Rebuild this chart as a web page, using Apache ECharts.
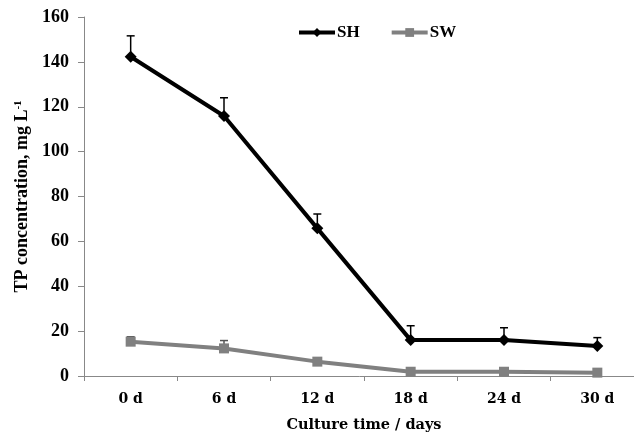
<!DOCTYPE html>
<html><head><meta charset="utf-8">
<script src="https://cdn.jsdelivr.net/npm/echarts@6/dist/echarts.min.js"></script>
<style>html,body{margin:0;padding:0;background:#fff}#c{width:634px;height:433px}</style>
</head><body><div id="c"></div>
<script>
var categories = ['0 d','6 d','12 d','18 d','24 d','30 d'];
var shValues = [142.3, 115.9, 65.8, 16.0, 16.0, 13.4];
var shErrors = [9.3, 8.1, 6.4, 6.4, 5.5, 3.7];
var swValues = [15.3, 12.3, 6.4, 1.9, 1.9, 1.5];
var swErrors = [2.2, 3.5, 0, 0, 0, 0];
var yTicks = [0,20,40,60,80,100,120,140,160];

var serif = 'Liberation Serif';
var wide = 'DejaVu Serif';
function errSeries(vals, errs, color){
  return {
    type:'custom', silent:true, z:1,
    data: vals.map(function(v,i){return [i, v, v+errs[i]];}),
    renderItem: function(params, api){
      var p0 = api.coord([api.value(0), api.value(1)]);
      var p1 = api.coord([api.value(0), api.value(2)]);
      if (api.value(2) - api.value(1) <= 0) return null;
      return {type:'group', children:[
        {type:'line', shape:{x1:p0[0],y1:p0[1],x2:p1[0],y2:p1[1]}, style:{stroke:color,lineWidth:1.5}},
        {type:'line', shape:{x1:p1[0]-4,y1:p1[1],x2:p1[0]+4,y2:p1[1]}, style:{stroke:color,lineWidth:1.5}}
      ]};
    }
  };
}
var chart = echarts.init(document.getElementById('c'));
chart.setOption({
  animation:false,
  grid:{left:84, width:560, top:17, height:359, outerBoundsMode:'none', containLabel:false},
  legend:{
    data:['SH','SW'], left:297, top:24, padding:0, itemWidth:36, itemHeight:11, itemGap:30,
    lineStyle:{width:4},
    textStyle:{fontFamily:serif, fontWeight:'bold', fontSize:17, color:'#000', padding:[0,0,0,-3]}
  },
  xAxis:{
    type:'category', data:categories, boundaryGap:true,
    axisLine:{lineStyle:{color:'#888', width:1}},
    axisTick:{show:true, length:5, lineStyle:{color:'#888'}},
    axisLabel:{fontFamily:wide, fontWeight:'bold', fontSize:14, color:'#000', margin:16},
    name:'Culture time / days', nameLocation:'middle', nameGap:42,
    nameTextStyle:{fontFamily:wide, fontWeight:'bold', fontSize:14.5, color:'#000'}
  },
  yAxis:{
    type:'value', min:0, max:160, interval:20,
    splitLine:{show:false},
    axisLine:{show:true, lineStyle:{color:'#888', width:1}},
    axisTick:{show:true, length:6, lineStyle:{color:'#888'}},
    axisLabel:{fontFamily:serif, fontWeight:'bold', fontSize:18, color:'#000', margin:15,
      formatter:function(v){return yTicks.indexOf(v)>=0 ? String(v) : '';}},
    name:'TP concentration, mg L{sup|-1}', nameLocation:'middle', nameGap:50, nameRotate:90,
    nameTextStyle:{fontFamily:serif, fontWeight:'bold', fontSize:18, color:'#000',
      rich:{sup:{fontFamily:serif, fontWeight:'bold', fontSize:11, color:'#000', verticalAlign:'top', padding:[0,0,8,0]}}}
  },
  series:[
    errSeries(shValues, shErrors, '#000'),
    errSeries(swValues, swErrors, '#555'),
    {name:'SH', type:'line', data:shValues, symbol:'diamond', symbolSize:12, z:3,
      lineStyle:{color:'#000', width:4}, itemStyle:{color:'#000'}},
    {name:'SW', type:'line', data:swValues, symbol:'rect', symbolSize:10, z:2,
      lineStyle:{color:'#808080', width:4}, itemStyle:{color:'#808080'}}
  ]
});
</script></body></html>
